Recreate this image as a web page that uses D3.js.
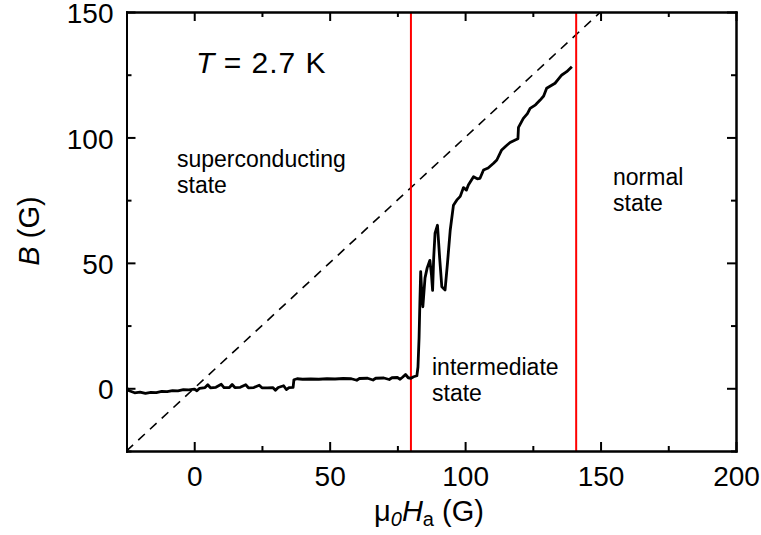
<!DOCTYPE html>
<html>
<head>
<meta charset="utf-8">
<style>
body { margin: 0; background: #fff; }
svg { display: block; font-family: "Liberation Sans", Arial, sans-serif; }
.axis path, .axis line { stroke: #000; stroke-width: 2px; }
.axis text { font-size: 28px; fill: #000; font-family: "Liberation Sans", Arial, sans-serif; }
.note { font-size: 23px; fill: #000; }
</style>
</head>
<body>
<div id="chart"></div>
<script src="https://cdnjs.cloudflare.com/ajax/libs/d3/7.8.5/d3.min.js"></script>
<script>
const fieldG = [-25, -24, -22, -20, -18, -16, -14, -12, -10, -8, -6, -4, -2, 0, 1, 2, 4, 5, 6, 8,
  10, 11, 13, 14, 15, 17, 19, 20, 22, 24, 25, 27, 29, 30, 31, 33, 34, 35, 36.5, 36.8,
  38, 40, 43, 46, 49, 52, 55, 58, 60, 61, 64, 66, 67, 70, 72, 73, 75, 76, 77, 78,
  79, 80, 81, 82.2, 82.6, 83.0, 83.3, 83.6, 84.0, 84.4, 85.2, 86, 87, 87.6, 88.0, 88.4, 88.9, 89.8, 90.6, 91.4,
  92.6, 93.5, 94.5, 95.7, 96.9, 98.2, 99.4, 100.5, 101.2, 103.1, 104.5, 105.5, 106.8, 108.5, 110.5, 111.7, 113.5, 115.0, 116.6, 118.5,
  119.5, 119.7, 121.5, 123, 124, 126, 127.7, 129, 130.1, 131.5, 133.2, 134.5, 135.7, 137.5, 139.4];
const inductionB = [0.3, -1.0, -1.8, -1.5, -2.0, -1.6, -1.7, -1.2, -1.3, -0.9, -1.0, -0.5, -0.6, -0.3, -1.0, 0.0, 0.3, 1.4, 0.2, 0.4,
  1.6, 0.3, 0.3, 1.5, 0.3, 0.4, 1.4, 0.2, 0.3, 1.2, 0.2, 0.2, 0.3, -0.8, 0.3, 1.0, -0.5, 0.3, 0.4, 3.4,
  3.8, 3.6, 3.7, 3.6, 3.8, 3.7, 3.9, 3.8, 3.2, 3.9, 4.0, 3.3, 4.0, 4.1, 3.5, 4.2, 4.3, 3.6, 4.5, 5.5,
  4.2, 4.0, 4.6, 5.0, 8.5, 20, 34, 46.5, 38, 32.5, 44, 48, 51, 45, 39, 52, 61.8, 65, 52, 40.5,
  39.2, 50, 63, 73, 75, 76.5, 80, 79, 81, 84.3, 83.5, 83.7, 87, 87.8, 89.7, 91, 95, 96.5, 98, 99,
  99.5, 104, 107.6, 109.5, 111.6, 113, 114.9, 116.5, 119.6, 120.5, 121.6, 123.3, 124.9, 126.2, 128.2];

const xMajor = [0, 50, 100, 150, 200];
const xMinor = [-25, 25, 75, 125, 175];
const yMajor = [0, 50, 100, 150];
const yMinor = [-25, 25, 75, 125];
const phaseBounds = [80, 141];
const diagonal = [-25, 150];

const W = 761, H = 535;
const x = d3.scaleLinear().domain([-25, 200]).range([126.5, 736]);
const y = d3.scaleLinear().domain([-25, 150]).range([451, 12]);

const svg = d3.select("#chart").append("svg").attr("width", W).attr("height", H);

svg.append("clipPath").attr("id", "clip").append("rect")
  .attr("x", x(-25)).attr("y", y(150))
  .attr("width", x(200) - x(-25)).attr("height", y(-25) - y(150));

const plot = svg.append("g").attr("clip-path", "url(#clip)");

// B = mu0 Ha reference line
plot.append("line")
  .attr("x1", x(diagonal[0])).attr("y1", y(diagonal[0]))
  .attr("x2", x(diagonal[1])).attr("y2", y(diagonal[1]))
  .attr("stroke", "#000").attr("stroke-width", 1.6).attr("stroke-dasharray", "9,7");

// phase boundaries
plot.selectAll(".bound").data(phaseBounds).enter().append("line")
  .attr("class", "bound")
  .attr("x1", d => x(d)).attr("x2", d => x(d))
  .attr("y1", y(150)).attr("y2", y(-25))
  .attr("stroke", "#ff0000").attr("stroke-width", 2);

const pts = fieldG.map((f, i) => [f, inductionB[i]]);
plot.append("path").datum(pts)
  .attr("fill", "none").attr("stroke", "#000").attr("stroke-width", 2.8)
  .attr("stroke-linejoin", "round")
  .attr("d", d3.line().x(d => x(d[0])).y(d => y(d[1])));

// axes with inward ticks on all four sides
function addAxis(gen, tr, vals, size, labels) {
  const g = svg.append("g").attr("class", "axis").attr("transform", tr)
    .call(gen.tickValues(vals).tickSize(size).tickSizeOuter(0)
      .tickFormat(labels ? d3.format("d") : ""));
  return g;
}
const bx = addAxis(d3.axisBottom(x), `translate(0,${y(-25)})`, xMajor, -9, true);
bx.selectAll("text").attr("y", 15).attr("dy", "0.71em");
addAxis(d3.axisBottom(x), `translate(0,${y(-25)})`, xMinor, -5, false);
addAxis(d3.axisTop(x), `translate(0,${y(150)})`, xMajor, -9, false);
addAxis(d3.axisTop(x), `translate(0,${y(150)})`, xMinor, -5, false);
const ly = addAxis(d3.axisLeft(y), `translate(${x(-25)},0)`, yMajor, -9, true);
ly.selectAll("text").attr("x", -13).attr("dy", "0.38em");
addAxis(d3.axisLeft(y), `translate(${x(-25)},0)`, yMinor, -5, false);
addAxis(d3.axisRight(y), `translate(${x(200)},0)`, yMajor, -9, false);
addAxis(d3.axisRight(y), `translate(${x(200)},0)`, yMinor, -5, false);
svg.selectAll(".axis path.domain").attr("stroke-linecap", "square");

// axis titles
const xt = svg.append("text").attr("x", 429).attr("y", 521)
  .attr("text-anchor", "middle").attr("font-size", 29);
xt.append("tspan").text("\u03BC");
xt.append("tspan").attr("font-style", "italic").attr("font-size", 20).attr("dy", 5).text("0");
xt.append("tspan").attr("font-style", "italic").attr("dy", -5).text("H");
xt.append("tspan").attr("font-size", 20).attr("dy", 5).text("a");
xt.append("tspan").attr("dy", -5).text(" (G)");

const yt = svg.append("text").attr("transform", "translate(39,231) rotate(-90)")
  .attr("text-anchor", "middle").attr("font-size", 29);
yt.append("tspan").attr("font-style", "italic").text("B");
yt.append("tspan").text(" (G)");

// annotations
const tl = svg.append("text").attr("x", 196).attr("y", 73).attr("font-size", 30);
tl.append("tspan").attr("font-style", "italic").text("T");
tl.append("tspan").attr("letter-spacing", 1).text(" = 2.7 K");

function note(x0, y0, lines) {
  const t = svg.append("text").attr("class", "note").attr("x", x0).attr("y", y0);
  lines.forEach((s, i) => t.append("tspan").attr("x", x0).attr("dy", i ? 25.5 : 0).text(s));
}
note(177, 167, ["superconducting", "state"]);
note(432, 375, ["intermediate", "state"]);
note(613, 185, ["normal", "state"]);
</script>
</body>
</html>
